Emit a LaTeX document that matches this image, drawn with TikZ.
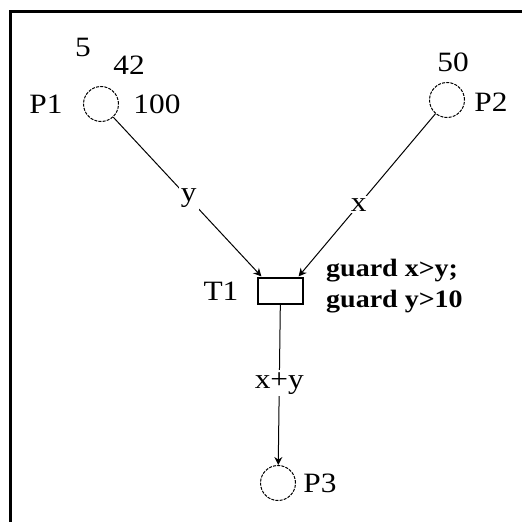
\documentclass[tikz,border=0pt]{standalone}
\usepackage{fontspec}
\setmainfont{Liberation Serif}[FakeStretch=1.12]
\usetikzlibrary{arrows.meta}
\tikzset{
  place/.style={draw, circle, minimum size=35pt, inner sep=0pt, line width=1pt, dash pattern=on 3pt off 1.2pt},
  trans/.style={draw, rectangle, minimum width=45pt, minimum height=26pt, inner sep=0pt, line width=1.2pt},
  lbl/.style={inner sep=0pt, font=\fontsize{28}{30}\selectfont},
  glbl/.style={inner sep=0pt, anchor=west, font=\fontsize{25}{27}\selectfont\bfseries},
  arclbl/.style={fill=white, inner sep=2pt, font=\fontsize{28}{30}\selectfont},
  arc/.style={line width=1pt, -{Stealth[length=8pt,width=8pt]}}
}
\begin{document}
\begin{tikzpicture}[x=1pt,y=-1pt]
\useasboundingbox (0,0) rectangle (522,522);
\clip (0,0) rectangle (522,522);
\draw[line width=3pt] (10,11.5) rectangle (560,560);
\node[place] (P1) at (101,104) {};
\node[place] (P2) at (447,100) {};
\node[place] (P3) at (278,483) {};
\node[trans] (T1) at (280.5,291) {};
\node[lbl] (p1l) at (46,104) {P1};
\node[lbl] (p1a) at (83,47) {5};
\node[lbl] (p1b) at (129,65) {42};
\node[lbl] (p1c) at (157,104) {100};
\node[lbl] (p2l) at (491,102) {P2};
\node[lbl] (p2a) at (453,62) {50};
\node[lbl] (p3l) at (320,483) {P3};
\node[lbl] (t1l) at (221,291) {T1};
\node[glbl] (g1) at (326,271) {guard x>y;};
\node[glbl] (g2) at (326,302) {guard y>10};
\coordinate (in1) at ([xshift=4pt,yshift=1pt]T1.north west);
\coordinate (in2) at ([xshift=-5pt,yshift=1pt]T1.north east);
\draw[arc] (P1) -- node[arclbl, pos=0.51] {y} (in1);
\draw[arc] (P2) -- node[arclbl, pos=0.56] {x} (in2);
\draw[arc] (T1) -- node[arclbl, pos=0.49] {x+y} (P3);
\end{tikzpicture}
\end{document}
